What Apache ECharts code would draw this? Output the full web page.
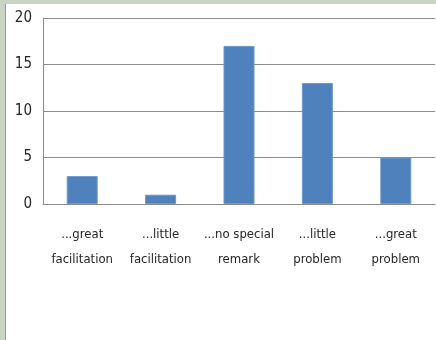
<!DOCTYPE html>
<html>
<head>
<meta charset="utf-8">
<script src="https://cdn.jsdelivr.net/npm/echarts@6/dist/echarts.min.js"></script>
<style>
  html, body { margin: 0; padding: 0; background: #ffffff; }
  #chart { width: 436px; height: 340px; }
</style>
</head>
<body>
<div id="chart"></div>
<script>
// Answers per category
const categories = ['...great\nfacilitation', '...little\nfacilitation', '...no special\nremark', '...little\nproblem', '...great\nproblem'];
const counts = [3, 1, 17, 13, 5];
const yTicks = { min: 0, max: 20, interval: 5 };

const font = '"Liberation Sans Narrow", "DejaVu Sans Condensed", sans-serif';

const chart = echarts.init(document.getElementById('chart'), null, { renderer: 'canvas' });
chart.setOption({
  animation: false,
  backgroundColor: '#ffffff',
  graphic: [
    { type: 'rect', left: 0, top: 0, shape: { width: 436, height: 4 }, style: { fill: '#c9d4c2' }, z: 10 },
    { type: 'rect', left: 0, top: 0, shape: { width: 5, height: 340 }, style: { fill: '#c9d4c2' }, z: 10 },
    { type: 'rect', left: 5, top: 4, shape: { width: 1, height: 336 }, style: { fill: '#9a9a9a' }, z: 10 }
  ],
  grid: { left: 43, right: 1, top: 18, bottom: 136, containLabel: false },
  xAxis: {
    type: 'category',
    data: categories,
    axisLine: { show: true, lineStyle: { color: '#8c8c8c', width: 1 } },
    axisTick: { show: false },
    axisLabel: {
      color: '#262626',
      fontFamily: font,
      fontSize: 13,
      lineHeight: 25,
      margin: 18,
      interval: 0
    }
  },
  yAxis: {
    type: 'value',
    min: yTicks.min,
    max: yTicks.max,
    interval: yTicks.interval,
    axisLine: { show: true, lineStyle: { color: '#8c8c8c', width: 1 } },
    axisTick: { show: false },
    splitLine: { show: true, lineStyle: { color: '#8c8c8c', width: 1 } },
    axisLabel: {
      color: '#262626',
      fontFamily: font,
      fontSize: 15,
      margin: 11
    }
  },
  series: [{
    type: 'bar',
    data: counts,
    barWidth: 31,
    itemStyle: { color: '#4f81bd', borderColor: '#6d98cc', borderWidth: 1 }
  }]
});
</script>
</body>
</html>
